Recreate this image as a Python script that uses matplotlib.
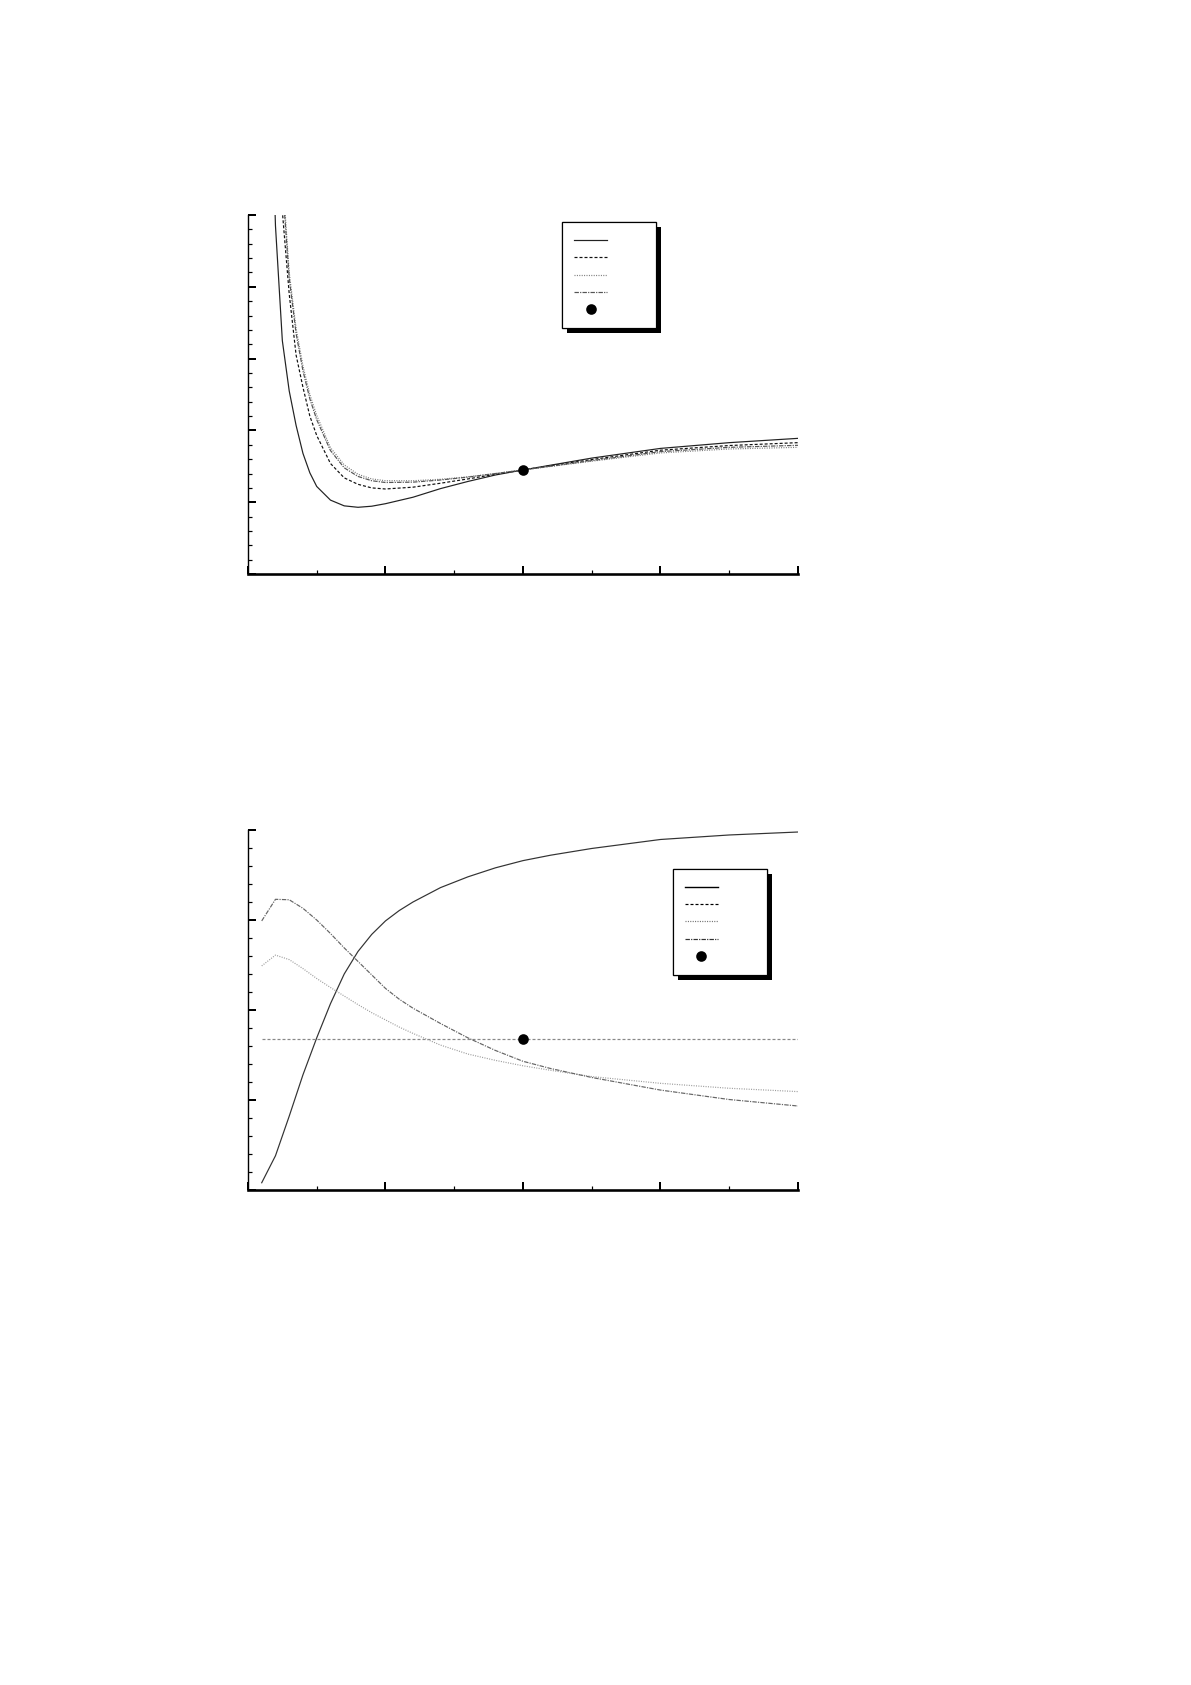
import matplotlib
matplotlib.use("Agg")
import matplotlib.pyplot as plt
import matplotlib.patheffects as pe
from matplotlib.ticker import MultipleLocator

plt.rcParams['lines.scale_dashes'] = False

# ---- top panel ----
x_top = [0.15, 0.2, 0.25, 0.3, 0.35, 0.4, 0.45, 0.5, 0.6, 0.7, 0.8, 0.9, 1.0,
         1.2, 1.4, 1.6, 1.8, 2.0, 2.5, 3.0, 3.5, 4.0]
x_top2 = x_top[1:]
top_solid = [8.0, 4.85, 3.25, 2.55, 2.07, 1.68, 1.41, 1.22, 1.03, 0.95, 0.93, 0.945, 0.98,
             1.07, 1.19, 1.29, 1.38, 1.45, 1.615, 1.75, 1.83, 1.89]
top_dashed = [7.5, 5.05, 3.9, 3.05, 2.6, 2.2, 1.93, 1.54, 1.34, 1.25, 1.20, 1.185,
              1.21, 1.265, 1.325, 1.39, 1.45, 1.595, 1.725, 1.79, 1.83]
top_dotted = [8.5, 5.6, 4.2, 3.42, 2.9, 2.5, 2.21, 1.76, 1.52, 1.39, 1.325, 1.30,
              1.30, 1.32, 1.355, 1.40, 1.45, 1.572, 1.687, 1.742, 1.765]
top_dashdot = [8.2, 5.45, 4.12, 3.35, 2.83, 2.44, 2.15, 1.72, 1.48, 1.36, 1.30, 1.275,
               1.28, 1.31, 1.35, 1.40, 1.45, 1.58, 1.705, 1.765, 1.793]
top_point = (2.0, 1.45)

# ---- bottom panel ----
x_bot = [0.1, 0.2, 0.3, 0.4, 0.5, 0.6, 0.7, 0.8, 0.9, 1.0, 1.1, 1.2, 1.4, 1.6, 1.8,
         2.0, 2.2, 2.5, 3.0, 3.5, 4.0]
bot_solid = [0.08, 0.38, 0.82, 1.28, 1.69, 2.07, 2.40, 2.65, 2.84, 2.99, 3.105, 3.20, 3.36,
             3.48, 3.58, 3.66, 3.72, 3.795, 3.895, 3.945, 3.978]
x_flat = [0.1, 4.0]
bot_dashed = [1.68, 1.68]
bot_dotted = [2.49, 2.61, 2.56, 2.46, 2.35, 2.25, 2.155, 2.06, 1.97, 1.89, 1.81, 1.74, 1.61,
              1.51, 1.44, 1.38, 1.33, 1.26, 1.185, 1.13, 1.093]
bot_dashdot = [2.99, 3.23, 3.225, 3.13, 3.0, 2.85, 2.69, 2.54, 2.39, 2.24, 2.12, 2.02, 1.85,
               1.69, 1.55, 1.43, 1.35, 1.25, 1.11, 1.005, 0.933]
bot_point = (2.0, 1.68)

DASHED = (0, (1.5, 1.0))
DOTTED = (0, (0.5, 0.7))
DASHDOT = (0, (2.2, 0.6, 0.6, 0.6))


def style_axes(ax, ymax):
    ax.set_xlim(0, 4)
    ax.set_ylim(0, ymax)
    for s in ['top', 'right']:
        ax.spines[s].set_visible(False)
    ax.spines['left'].set_linewidth(0.7)
    ax.spines['bottom'].set_linewidth(1.3)
    ax.xaxis.set_major_locator(MultipleLocator(1))
    ax.xaxis.set_minor_locator(MultipleLocator(0.5))
    ax.yaxis.set_major_locator(MultipleLocator(1))
    ax.yaxis.set_minor_locator(MultipleLocator(0.2))
    ax.tick_params(which='major', direction='in', length=3.8, width=1.0,
                   labelbottom=False, labelleft=False)
    ax.tick_params(which='minor', direction='in', length=2.0, width=0.6)


def add_legend(ax, handles, x0, y1):
    leg = ax.legend(handles, [''] * len(handles), loc='upper left',
                    bbox_to_anchor=(x0, y1), fontsize=6, frameon=True,
                    fancybox=False, framealpha=1, edgecolor='black',
                    borderpad=1.0, labelspacing=0.36, handlelength=2.75,
                    handletextpad=3.1, borderaxespad=0, numpoints=1)
    frame = leg.get_frame()
    frame.set_linewidth(0.6)
    frame.set_path_effects([pe.withSimplePatchShadow(offset=(2.5, -2.5),
                                                     shadow_rgbFace='black', alpha=1),
                            pe.Normal()])
    return leg


fig = plt.figure(figsize=(1191 / 144, 1685 / 144), dpi=144)

ax1 = fig.add_axes([0.2082, 0.6593, 0.4618, 0.2131])
l1, = ax1.plot(x_top, top_solid, color='#222222', lw=0.6)
l2, = ax1.plot(x_top2, top_dashed, color='#111111', lw=0.6, linestyle=DASHED)
l3, = ax1.plot(x_top2, top_dotted, color='#777777', lw=0.6, linestyle=DOTTED)
l4, = ax1.plot(x_top2, top_dashdot, color='#555555', lw=0.6, linestyle=DASHDOT)
p1, = ax1.plot([top_point[0]], [top_point[1]], 'o', color='black', markersize=4.3,
               linestyle='none')
style_axes(ax1, 5)
add_legend(ax1, [l1, l2, l3, l4, p1], 0.571, 0.98)

ax2 = fig.add_axes([0.2082, 0.2938, 0.4618, 0.2136])
m1, = ax2.plot(x_bot, bot_solid, color='#333333', lw=0.6)
m2, = ax2.plot(x_flat, bot_dashed, color='#888888', lw=0.6, linestyle=DASHED)
m3, = ax2.plot(x_bot, bot_dotted, color='#999999', lw=0.6, linestyle=DOTTED)
m4, = ax2.plot(x_bot, bot_dashdot, color='#666666', lw=0.6, linestyle=DASHDOT)
p2, = ax2.plot([bot_point[0]], [bot_point[1]], 'o', color='black', markersize=4.3,
               linestyle='none')
style_axes(ax2, 4)

# legend lines drawn darker than the curves, as in the original
h1 = plt.Line2D([], [], color='black', lw=0.7)
h2 = plt.Line2D([], [], color='black', lw=0.6, linestyle=DASHED)
h3 = plt.Line2D([], [], color='#666666', lw=0.6, linestyle=DOTTED)
h4 = plt.Line2D([], [], color='#333333', lw=0.6, linestyle=DASHDOT)
add_legend(ax2, [h1, h2, h3, h4, p2], 0.7727, 0.892)

fig.savefig("out.png", dpi=144)
